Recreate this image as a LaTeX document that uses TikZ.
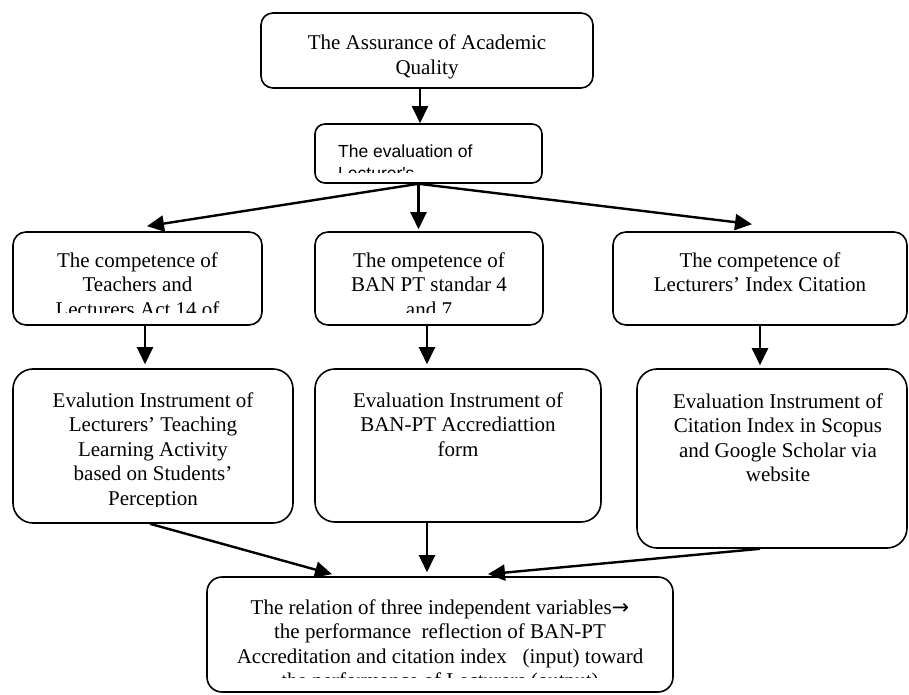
\documentclass[tikz,border=0pt]{standalone}
\usepackage{fontspec}
\setmainfont{Liberation Serif}
\newfontfamily\arialfont{Liberation Sans}
\newfontfamily\dejavufont{DejaVu Sans}
\usetikzlibrary{arrows.meta}
\newcommand\tnrsize{\fontsize{21bp}{24.5bp}\selectfont}
\newcommand\arialsize{\arialfont\fontsize{17.5bp}{22bp}\selectfont}
\begin{document}
\begin{tikzpicture}[x=1bp,y=-1bp,
  boxshape/.style={draw, line width=1.6bp, rounded corners=#1, inner sep=0pt},
  boxshape/.default=12bp,
  txt/.style={anchor=north, inner sep=0pt, align=center, font=\tnrsize},
  arr/.style={line width=2.4bp, -{Triangle[length=17bp,width=16bp]}}]
\useasboundingbox (0,0) rectangle (909,695);

% boxes
\node[boxshape=12bp, minimum width=332bp, minimum height=75bp] (b1) at (427,50.5) {};
\node[boxshape=10bp, minimum width=227bp, minimum height=59bp] (b2) at (428.5,153.5) {};
\node[boxshape=13bp, minimum width=249bp, minimum height=93bp] (c1) at (137.5,278.5) {};
\node[boxshape=13bp, minimum width=228bp, minimum height=93bp] (c2) at (429,278.5) {};
\node[boxshape=13bp, minimum width=294bp, minimum height=93bp] (c3) at (760,278.5) {};
\node[boxshape=20bp, minimum width=280bp, minimum height=154bp] (d1) at (153,446) {};
\node[boxshape=20bp, minimum width=286bp, minimum height=153bp] (d2) at (458,445.5) {};
\node[boxshape=20bp, minimum width=270bp, minimum height=179bp] (d3) at (772,458.5) {};
\node[boxshape=15bp, minimum width=466bp, minimum height=115bp] (e) at (440,634.5) {};

% texts
\node[txt] (t1) at (427,32.35) {\strut The Assurance of Academic\\Quality};
\begin{scope}
  \clip (315,124) rectangle (542,172);
  \node[anchor=north west, inner sep=0pt, align=left, font=\arialsize] (t2) at (338,141.6) {\strut The evaluation of\\Lecturer's};
\end{scope}
\begin{scope}
  \clip (13,232) rectangle (262,312);
  \node[txt] (t3) at (137.5,249.85) {\strut The competence of\\Teachers and\\Lecturers Act 14 of};
\end{scope}
\begin{scope}
  \clip (315,232) rectangle (543,312);
  \node[txt] (t4) at (429,249.85) {\strut The ompetence of\\BAN PT standar 4\\and 7};
\end{scope}
\node[txt] (t5) at (760,249.85) {\strut The competence of\\Lecturers’ Index Citation};
\begin{scope}
  \clip (13,369) rectangle (293,506);
  \node[txt] (t6) at (153,389.85) {\strut Evalution Instrument of\\Lecturers’ Teaching\\Learning Activity\\based on Students’\\Perception};
\end{scope}
\node[txt] (t7) at (458,389.85) {\strut Evaluation Instrument of\\BAN-PT Accrediattion\\form};
\node[txt] (t8) at (778,390.85) {\strut Evaluation Instrument of\\Citation Index in Scopus\\and Google Scholar via\\website};
\begin{scope}
  \clip (207,577) rectangle (673,677);
  \node[txt] (t9) at (440,596.85) {\strut The relation of three independent variables{\dejavufont →}\\the performance\ \ reflection of BAN-PT\\Accreditation and citation index\ \ \ (input) toward\\the performance of Lecturers (output)};
\end{scope}

% connectors
\coordinate (b1o) at ([xshift=-7bp]b1.south);
\draw[arr] (b1o) -- (b1o |- b2.north);
\coordinate (b2o) at ([xshift=-10bp]b2.south);
\draw[arr] (b2o) -- ([xshift=9.5bp,yshift=5bp]c1.north);
\draw[arr, shorten >=2bp] (b2o) -- (b2o |- c2.north);
\draw[arr] (b2o) -- ([xshift=-8bp,yshift=7bp]c3.north);
\coordinate (c1o) at ([xshift=7.5bp]c1.south);
\draw[arr, shorten >=4bp] (c1o) -- (c1o |- d1.north);
\coordinate (c2o) at ([xshift=-2bp]c2.south);
\draw[arr, shorten >=4bp] (c2o) -- (c2o |- d2.north);
\coordinate (c3o) at (c3.south);
\draw[arr, shorten >=3bp] (c3o) -- (c3o |- d3.north);
\draw[arr] ([xshift=-3bp]d1.south) -- ([xshift=-108bp,yshift=2bp]e.north);
\coordinate (d2o) at ([xshift=-31bp]d2.south);
\draw[arr, shorten >=4bp] (d2o) -- (d2o |- e.north);
\draw[arr] ([xshift=-12bp]d3.south) -- ([xshift=48bp,yshift=2bp]e.north);
\end{tikzpicture}
\end{document}
